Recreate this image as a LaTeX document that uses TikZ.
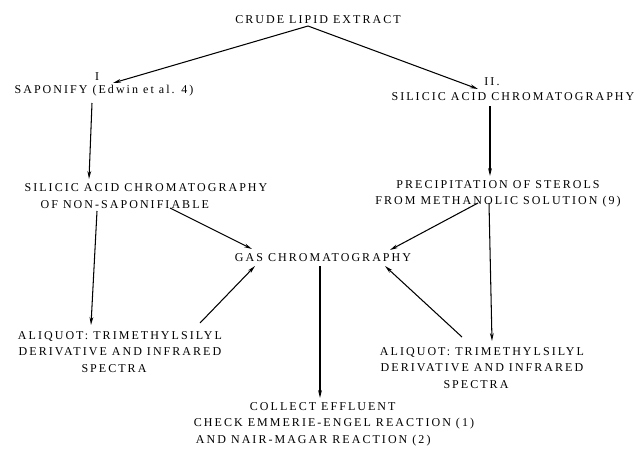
\documentclass[tikz,border=0pt]{standalone}
\usepackage{fontspec}
\setmainfont{Liberation Serif}[LetterSpace=17]
\usetikzlibrary{arrows.meta}
\begin{document}
\begin{tikzpicture}[x=1pt,y=-1pt,
  txt/.style={inner sep=0pt,align=center,font=\fontsize{12}{16.5}\selectfont},
  arr/.style={-{Stealth[length=8pt,width=3.8pt]},line width=1.05pt}]
\useasboundingbox[fill=white] (0,0) rectangle (640,456);
\node[txt] (crude) at (318,20) {CRUDE LIPID EXTRACT};
\node[txt] (rI) at (97,77) {I};
\node[txt] (sap) at (104,91) {SAPONIFY (Edwin et al. 4)};
\node[txt] (rII) at (492,82) {II.};
\node[txt] (sil2) at (513,97) {SILICIC ACID CHROMATOGRAPHY};
\node[txt,align=left] (sil1) at (146,196) {SILICIC ACID CHROMATOGRAPHY\\\hspace*{16pt}OF NON-SAPONIFIABLE};
\node[txt] (prec) at (498,194) {PRECIPITATION OF STEROLS\\FROM METHANOLIC SOLUTION (9)};
\node[txt] (gas) at (323,258) {GAS CHROMATOGRAPHY};
\node[txt] (aliL) at (120,352) {ALIQUOT: TRIMETHYLSILYL\\DERIVATIVE AND INFRARED\\SPECTRA\hspace*{12pt}};
\node[txt] (aliR) at (482,368) {ALIQUOT: TRIMETHYLSILYL\\DERIVATIVE AND INFRARED\\SPECTRA\hspace*{12pt}};
\node[txt,align=left] (coll) at (334,424) {\hspace*{56pt}COLLECT EFFLUENT\\CHECK EMMERIE-ENGEL REACTION (1)\\\hspace*{2pt}AND NAIR-MAGAR REACTION (2)};
% connectors
\draw[arr] ([shift={(-10,6)}]crude.center) -- ([shift={(16,6)}]rI.center);
\draw[arr] ([shift={(-10,6)}]crude.center) -- ([shift={(-14,7)}]rII.center);
\draw[arr] ([shift={(-12,12)}]sap.center) -- ([shift={(-57,-17)}]sil1.center);
\draw[arr] ([shift={(-23,9)}]sil2.center) -- ([shift={(-8,-18)}]prec.center);
\draw[arr] ([shift={(24,12)}]sil1.center) -- ([shift={(-71,-9)}]gas.center);
\draw[arr] ([shift={(-49,15)}]sil1.center) -- ([shift={(-29,-27)}]aliL.center);
\draw[arr] ([shift={(-20,9)}]prec.center) -- ([shift={(67,-8)}]gas.center);
\draw[arr] ([shift={(-9,9)}]prec.center) -- ([shift={(10,-27)}]aliR.center);
\draw[arr] ([shift={(80,-29)}]aliL.center) -- ([shift={(-68,8)}]gas.center);
\draw[arr] ([shift={(-20,-31)}]aliR.center) -- ([shift={(62,8)}]gas.center);
\draw[arr] ([shift={(-3,8)}]gas.center) -- ([shift={(-14,-26)}]coll.center);
\end{tikzpicture}
\end{document}
